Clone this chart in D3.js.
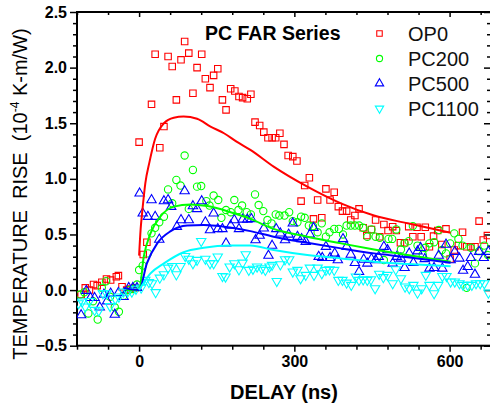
<!DOCTYPE html>
<html lang="en">
<head>
<meta charset="UTF-8">
<title>PC FAR Series</title>
<style>
  body { margin: 0; background: #fff; }
  svg { display: block; font-family: "Liberation Sans", Arial, sans-serif; }
</style>
<script src="https://d3js.org/d3.v7.min.js"></script>
</head>
<body>
<div id="chart"></div>
<script>
// ---- data: [delay ns, rise 1e-4 K-m/W] ----
const seriesNames = ["OP0", "PC200", "PC500", "PC1100"]

const op0Pts = [[-112,-0.04],[-104,0.02],[-96,0.0],[-88,0.05],[-81,0.04],[-72,0.07],[-63,0.10],[-55,0.09],[-44,0.12],[-40,0.13],[-33,0.03],[-24,0.0],[-16,0.01],[-8,0.02],
  [0,1.33],[8,0.32],[15,0.43],[24,1.67],[31,2.12],[40,1.28],[48,1.47],[56,2.10],[64,2.01],[72,1.71],[81,2.07],[88,2.235],[96,2.13],[104,1.77],[112,2.0],[121,2.12],
  [128,1.90],[137,1.82],[144,1.93],[152,1.99],[161,1.71],[168,1.62],[177,1.81],[185,1.79],[193,1.74],[200,1.73],[209,1.72],[216,1.76],[224,1.51],[233,1.48],
  [241,1.42],[249,1.37],[257,1.37],[264,1.37],[272,1.41],[280,1.31],[288,1.21],[297,1.20],[305,1.16],[313,0.80],[320,0.94],[329,1.01],[337,0.64],[345,0.81],
  [353,0.65],[361,0.91],[369,0.81],[377,0.88],[385,0.75],[393,0.71],[401,0.71],[409,0.63],[417,0.67],[425,0.73],[433,0.56],[440,0.49],[449,0.545],[457,0.63],
  [465,0.48],[473,0.59],[481,0.535],[490,0.57],[497,0.535],[505,0.425],[513,0.425],[521,0.57],[529,0.48],[537,0.565],[545,0.48],[553,0.565],[561,0.39],
  [569,0.485],[577,0.535],[585,0.41],[593,0.55],[601,0.28],[609,0.36],[617,0.40],[625,0.52],[633,0.39],[641,0.39],[649,0.39],[657,0.62],[665,0.45],[673,0.49]]

const pc200Pts = [[-114,-0.04],[-106,-0.02],[-98,-0.21],[-89,-0.10],[-80,-0.265],[-72,0.02],[-64,0.08],[-56,-0.06],[-47,-0.155],[-39,-0.195],[-30,-0.05],[-20,0.0],[-12,0.01],[-4,0.05],
  [0,0.18],[7,0.22],[17,0.33],[24,0.51],[31,0.56],[39,0.61],[48,0.66],[56,0.905],[64,0.78],[72,0.99],[80,0.94],[88,1.21],[96,0.73],[104,1.08],[112,0.93],[120,0.935],
  [130,0.80],[136,0.76],[144,0.85],[153,0.81],[159,0.65],[168,0.72],[177,0.70],[184,0.81],[192,0.72],[199,0.76],[208,0.70],[216,0.68],[224,0.86],[231,0.765],
  [240,0.71],[248,0.63],[256,0.60],[264,0.68],[271,0.67],[281,0.67],[290,0.70],[297,0.62],[306,0.61],[313,0.66],[320,0.65],[328,0.58],[336,0.575],[345,0.52],
  [353,0.60],[361,0.48],[368,0.52],[377,0.55],[386,0.55],[394,0.50],[401,0.58],[409,0.58],[417,0.58],[425,0.58],[433,0.56],[441,0.48],[449,0.545],[457,0.48],
  [465,0.47],[473,0.27],[482,0.46],[489,0.46],[497,0.545],[506,0.365],[513,0.42],[521,0.44],[529,0.575],[538,0.40],[548,0.32],[553,0.38],[561,0.42],[570,0.43],
  [579,0.54],[585,0.36],[593,0.33],[601,0.42],[609,0.51],[617,0.46],[625,0.40],[633,0.02],[641,0.38],[649,0.24],[657,0.35],[667,0.40],[674,0.315]]

const pc500Pts = [[-112,-0.225],[-102,-0.005],[-94,-0.07],[-86,-0.07],[-76,-0.155],[-68,-0.04],[-62,-0.10],[-55,-0.03],[-47,-0.22],[-40,-0.025],[-30,-0.06],[-20,0.02],[-12,0.02],[-4,0.02],
  [1,0.87],[7,0.69],[17,0.66],[24,0.81],[31,0.66],[39,0.455],[48,0.80],[56,0.81],[62,0.75],[73,0.57],[81,0.63],[88,0.89],[96,0.63],[104,0.755],[112,0.73],[121,0.80],
  [128,0.61],[137,0.54],[144,0.69],[152,0.55],[161,0.55],[168,0.42],[177,0.58],[184,0.63],[193,0.55],[200,0.635],[209,0.635],[217,0.64],[225,0.45],[233,0.49],
  [241,0.555],[250,0.31],[257,0.40],[265,0.55],[273,0.51],[282,0.45],[289,0.50],[297,0.60],[306,0.48],[314,0.46],[322,0.435],[330,0.50],[337,0.56],[347,0.30],
  [354,0.29],[361,0.39],[369,0.29],[378,0.33],[384,0.27],[394,0.46],[401,0.39],[409,0.32],[417,0.245],[425,0.165],[434,0.275],[441,0.24],[449,0.28],[457,0.27],
  [463,0.30],[473,0.39],[480,0.36],[490,0.24],[498,0.30],[506,0.285],[513,0.20],[522,0.33],[530,0.245],[538,0.35],[544,0.38],[552,0.28],[561,0.195],[570,0.20],
  [579,0.31],[586,0.195],[593,0.41],[602,0.27],[610,0.345],[619,0.285],[626,0.175],[635,0.21],[641,0.29],[649,0.14],[657,0.345],[666,0.29],[675,0.345]]

const pc1100Pts = [[-117,-0.12],[-110,-0.105],[-104,-0.15],[-96,-0.10],[-86,-0.18],[-78,-0.185],[-70,-0.03],[-63,-0.03],[-56,-0.145],[-46,-0.08],[-39,-0.06],[-30,-0.015],[-22,-0.015],[-14,-0.015],[-6,0.01],
  [4,0.02],[12,0.09],[19,0.07],[25,0.06],[32,-0.02],[40,0.11],[48,0.14],[56,0.20],[64,0.215],[72,0.14],[80,0.215],[89,0.305],[96,0.28],[104,0.24],[112,0.27],
  [120,0.44],[128,0.28],[137,0.24],[144,0.24],[152,0.30],[161,0.125],[167,0.12],[175,0.21],[184,0.24],[193,0.185],[200,0.245],[206,0.32],[212,0.18],[220,0.19],
  [228,0.21],[237,0.195],[244,0.18],[252,0.21],[257,0.225],[266,0.08],[273,0.23],[282,0.275],[290,0.275],[297,0.165],[306,0.18],[312,0.105],[322,0.135],[330,0.20],
  [338,0.135],[345,0.20],[353,0.15],[361,0.18],[368,0.185],[377,0.18],[385,0.09],[393,0.09],[401,0.065],[410,0.045],[419,0.12],[425,0.09],[433,0.095],[441,0.09],
  [448,0.095],[456,0.015],[464,0.145],[472,0.115],[480,0.135],[490,0.06],[496,0.185],[506,0.105],[514,0.03],[522,0.015],[530,0.045],[538,-0.025],[546,0.015],
  [554,0.135],[561,0.045],[570,-0.03],[578,0.045],[586,0.125],[594,0.125],[602,0.075],[610,0.075],[619,0.06],[626,0.045],[635,0.045],[643,0.045],[651,0.06],
  [659,0.06],[667,0.06],[675,-0.025]]

// fitted curves
const op0Fit = [[0,0.31],[3,0.55],[6,0.70],[12,0.96],[20,1.15],[31,1.36],[48,1.50],[67,1.55],[86,1.56],[112,1.54],[138,1.47],[164,1.41],[190,1.33],[215,1.26],
  [260,1.11],[325,0.93],[390,0.78],[454,0.67],[519,0.60],[602,0.515]]
const pc200Fit = [[-25,0.0],[0,0.0],[9,0.30],[22,0.51],[41,0.66],[67,0.75],[99,0.77],[132,0.755],[177,0.70],[215,0.64],[260,0.55],[325,0.48],[390,0.42],
  [454,0.365],[519,0.315],[602,0.255]]
const pc500Fit = [[-30,0.02],[0,0.0],[15,0.24],[35,0.42],[61,0.53],[93,0.58],[125,0.585],[164,0.57],[215,0.53],[260,0.48],[325,0.425],[390,0.375],[454,0.33],
  [519,0.295],[602,0.245]]
const pc1100Fit = [[0,0.0],[22,0.15],[48,0.24],[86,0.34],[125,0.38],[177,0.40],[215,0.40],[260,0.36],[325,0.315],[390,0.285],[454,0.255],[519,0.235],[602,0.215]]

const xMajor = [0, 300, 600]
const yMajor = [-0.5, 0.0, 0.5, 1.0, 1.5, 2.0, 2.5]

// ---- layout ----
const boxWidth = 490, boxHeight = 406
const plotLeft = 77, plotRight = 491, plotTop = 12, plotBottom = 345.7

const colors = ["#ff0000", "#00ff00", "#0000ff", "#00ffff"]
const symbols = [d3.symbolSquare, d3.symbolCircle, d3.symbolTriangle, d3.symbolTriangle]
const symSize = [42, 42, 38, 38]
const flip = [false, false, false, true]

const series = [
  { pts: op0Pts, fit: op0Fit },
  { pts: pc200Pts, fit: pc200Fit },
  { pts: pc500Pts, fit: pc500Fit },
  { pts: pc1100Pts, fit: pc1100Fit }
]

const svg = d3.select("#chart").append("svg")
  .attr("width", boxWidth).attr("height", boxHeight)

const xScale = d3.scaleLinear().domain([-120, 680]).range([plotLeft, plotRight])
const yScale = d3.scaleLinear().domain([-0.5, 2.5]).range([plotBottom, plotTop])

svg.append("clipPath").attr("id", "clip").append("rect")
  .attr("x", plotLeft).attr("y", plotTop)
  .attr("width", plotRight - plotLeft).attr("height", plotBottom - plotTop)

const xMinor = d3.range(-120, 681, 60).filter(v => !xMajor.includes(v))
const yMinor = d3.range(-5, 26).map(v => v / 10).filter(v => Math.round(v * 10) % 5 !== 0)

function axisStyle(g) {
  g.select(".domain").remove()
  g.selectAll("line").attr("stroke", "#000").attr("stroke-width", 1.5)
  g.selectAll("text").attr("font-size", 16).attr("font-weight", "bold").attr("fill", "#000")
    .attr("font-family", "'Liberation Sans', Arial, sans-serif")
}

// bottom
svg.append("g").attr("transform", `translate(0,${plotBottom})`)
  .call(d3.axisBottom(xScale).tickValues(xMajor).tickSize(6).tickPadding(4).tickFormat(d3.format("d")))
  .call(axisStyle)
svg.append("g").attr("transform", `translate(0,${plotBottom})`)
  .call(d3.axisBottom(xScale).tickValues(xMinor).tickSize(4).tickFormat(""))
  .call(axisStyle)
// top (inward)
svg.append("g").attr("transform", `translate(0,${plotTop})`)
  .call(d3.axisBottom(xScale).tickValues(xMajor).tickSize(5).tickFormat(""))
  .call(axisStyle)
svg.append("g").attr("transform", `translate(0,${plotTop})`)
  .call(d3.axisBottom(xScale).tickValues(xMinor).tickSize(3).tickFormat(""))
  .call(axisStyle)
// left
svg.append("g").attr("transform", `translate(${plotLeft},0)`)
  .call(d3.axisLeft(yScale).tickValues(yMajor).tickSize(7).tickPadding(3).tickFormat(d3.format(".1f")))
  .call(axisStyle)
svg.append("g").attr("transform", `translate(${plotLeft},0)`)
  .call(d3.axisLeft(yScale).tickValues(yMinor).tickSize(4).tickFormat(""))
  .call(axisStyle)
// right (inward)
svg.append("g").attr("transform", `translate(${plotRight},0)`)
  .call(d3.axisLeft(yScale).tickValues(yMajor).tickSize(7).tickFormat(""))
  .call(axisStyle)
svg.append("g").attr("transform", `translate(${plotRight},0)`)
  .call(d3.axisLeft(yScale).tickValues(yMinor).tickSize(4).tickFormat(""))
  .call(axisStyle)

// frame
svg.append("rect")
  .attr("x", plotLeft).attr("y", plotTop)
  .attr("width", plotRight - plotLeft).attr("height", plotBottom - plotTop)
  .attr("fill", "none").attr("stroke", "#000").attr("stroke-width", 2)

// data
const plot = svg.append("g").attr("clip-path", "url(#clip)")
const line = d3.line().x(d => xScale(d[0])).y(d => yScale(d[1])).curve(d3.curveMonotoneX)

series.forEach((s, i) => {
  const sym = d3.symbol().type(symbols[i]).size(symSize[i])
  plot.append("g").selectAll("path").data(s.pts).join("path")
    .attr("d", sym)
    .attr("transform", d => `translate(${xScale(d[0])},${yScale(d[1])})` + (flip[i] ? " rotate(180)" : ""))
    .attr("fill", "none")
    .attr("stroke", colors[i])
    .attr("stroke-width", 1.1)
})
series.forEach((s, i) => {
  plot.append("path").datum(s.fit)
    .attr("d", line)
    .attr("fill", "none")
    .attr("stroke", colors[i])
    .attr("stroke-width", 2)
})

// title inside plot
svg.append("text")
  .attr("x", 205).attr("y", 40)
  .attr("font-size", 19.5).attr("font-weight", "bold")
  .text("PC FAR Series")

// legend
const legend = svg.append("g").selectAll("g").data(seriesNames).join("g")
  .attr("transform", (d, i) => `translate(379.5,${33.5 + i * 25})`)
legend.append("path")
  .attr("d", (d, i) => d3.symbol().type(symbols[i]).size(30)())
  .attr("transform", (d, i) => flip[i] ? "rotate(180)" : null)
  .attr("fill", "none")
  .attr("stroke", (d, i) => colors[i])
  .attr("stroke-width", 1.1)
legend.append("text")
  .attr("x", 28.5).attr("y", 7.5)
  .attr("font-size", 20)
  .attr("fill", "#111")
  .text(d => d)

// axis titles
svg.append("text")
  .attr("x", (plotLeft + plotRight) / 2).attr("y", 399)
  .attr("text-anchor", "middle")
  .attr("font-size", 20).attr("font-weight", "bold")
  .text("DELAY (ns)")

const yTitle = svg.append("text")
  .attr("transform", "translate(27,194) rotate(-90)")
  .attr("text-anchor", "middle")
  .attr("font-size", 20)
  .style("white-space", "pre")
yTitle.append("tspan").text("TEMPERATURE  RISE  (10")
yTitle.append("tspan").attr("font-size", 12).attr("dy", -8).text("-4")
yTitle.append("tspan").attr("dy", 8).text(" K-m/W)")
</script>
</body>
</html>
